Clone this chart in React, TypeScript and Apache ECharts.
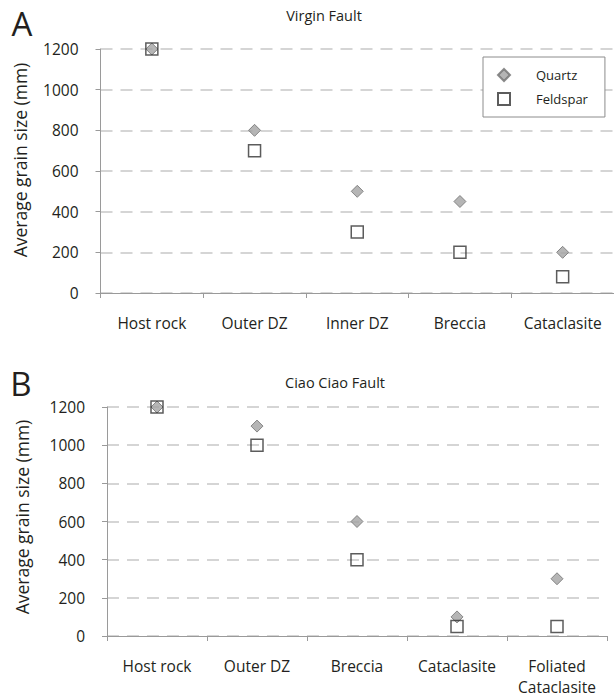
import React, { useEffect, useRef } from "react";
import * as echarts from "echarts";

const CATS_A = ["Host rock", "Outer DZ", "Inner DZ", "Breccia", "Cataclasite"];
const QUARTZ_A = [1200, 800, 500, 450, 200];
const FELDSPAR_A = [1200, 700, 300, 200, 80];

const CATS_B = ["Host rock", "Outer DZ", "Breccia", "Cataclasite", "Foliated\nCataclasite"];
const QUARTZ_B = [1200, 1100, 600, 100, 300];
const FELDSPAR_B = [1200, 1000, 400, 50, 50];

const Y_MIN = 0;
const Y_MAX = 1200;
const Y_STEP = 200;

const FONT = "Open Sans";
const TXT = "#231f20";
const AXIS = "#9a9a9a";

export default function App() {
  const ref = useRef<HTMLDivElement>(null);
  useEffect(() => {
    if (!ref.current) return;
    const chart = echarts.init(ref.current, undefined, { renderer: "svg" });

    const xAxisBase = (data: string[], gridIndex: number) => ({
      type: "category",
      gridIndex,
      data,
      boundaryGap: true,
      axisLine: { lineStyle: { color: AXIS, width: 1 } },
      axisTick: { show: true, length: 5, lineStyle: { color: AXIS } },
      axisLabel: { fontFamily: FONT, fontSize: 15.5, color: TXT, margin: 19, lineHeight: 21, interval: 0 },
      splitLine: { show: false },
    });
    const yAxisBase = (gridIndex: number) => ({
      type: "value",
      gridIndex,
      min: Y_MIN,
      max: Y_MAX,
      interval: Y_STEP,
      axisLine: { show: true, lineStyle: { color: AXIS, width: 1 } },
      axisTick: { show: true, length: 5, lineStyle: { color: AXIS } },
      axisLabel: {
        fontFamily: FONT,
        fontSize: 15.5,
        color: TXT,
        margin: 22,
        formatter: (v: number) => String(v),
      },
      splitLine: { show: true, lineStyle: { color: "#c8c8c8", width: 1.5, type: [12, 8] } },
    });

    const quartzStyle = { color: "#a3a3a3", borderColor: "#707070", borderWidth: 1 };
    const feldStyle = { color: "rgba(255,255,255,0)", borderColor: "#333333", borderWidth: 1.5 };

    const text = (t: string, x: number, y: number, size: number, extra: any = {}) => ({
      type: "text",
      x,
      y,
      ...extra,
      style: {
        text: t,
        fontFamily: FONT,
        fontSize: size,
        fill: TXT,
        textAlign: "center",
        textVerticalAlign: "middle",
        align: "center",
        verticalAlign: "middle",
      },
    });

    chart.setOption({
      animation: false,
      backgroundColor: "#ffffff",
      grid: [
        { left: 100.5, top: 49, width: 517, height: 244 },
        { left: 107, top: 407, width: 500, height: 236 },
      ],
      xAxis: [xAxisBase(CATS_A, 0), xAxisBase(CATS_B, 1)],
      yAxis: [yAxisBase(0), yAxisBase(1)],
      legend: {
        data: ["Quartz", "Feldspar"],
        orient: "vertical",
        left: 483,
        top: 57,
        itemWidth: 12,
        itemHeight: 12,
        itemGap: 10,
        padding: [11, 17, 11, 14],
        borderColor: "#8c8c8c",
        borderWidth: 1,
        backgroundColor: "#ffffff",
        textStyle: { fontFamily: FONT, fontSize: 13, color: TXT, padding: [0, 0, 0, 21] },
      },
      graphic: [
        text("A", 22, 23, 33),
        text("B", 21, 383, 33),
        text("Virgin Fault", 324, 15, 14.5),
        text("Ciao Ciao Fault", 335, 382, 14.5),
        text("Average grain size (mm)", 20, 160, 17.5, { rotation: Math.PI / 2 }),
        text("Average grain size (mm)", 22, 517, 17.5, { rotation: Math.PI / 2 }),
      ],
      series: [
        {
          name: "Quartz",
          type: "scatter",
          xAxisIndex: 0,
          yAxisIndex: 0,
          symbol: "diamond",
          symbolSize: 12,
          itemStyle: quartzStyle,
          data: QUARTZ_A,
          z: 2,
        },
        {
          name: "Quartz",
          type: "scatter",
          xAxisIndex: 1,
          yAxisIndex: 1,
          symbol: "diamond",
          symbolSize: 12,
          itemStyle: quartzStyle,
          data: QUARTZ_B,
          z: 2,
        },
        {
          name: "Feldspar",
          type: "scatter",
          xAxisIndex: 0,
          yAxisIndex: 0,
          symbol: "rect",
          symbolSize: 12,
          itemStyle: feldStyle,
          data: FELDSPAR_A,
          z: 3,
        },
        {
          name: "Feldspar",
          type: "scatter",
          xAxisIndex: 1,
          yAxisIndex: 1,
          symbol: "rect",
          symbolSize: 12,
          itemStyle: feldStyle,
          data: FELDSPAR_B,
          z: 3,
        },
      ],
    });
    return () => chart.dispose();
  }, []);
  return (
    <div
      ref={ref}
      style={{ position: "absolute", left: 0, top: 0, width: 614, height: 697, background: "#fff" }}
    />
  );
}
